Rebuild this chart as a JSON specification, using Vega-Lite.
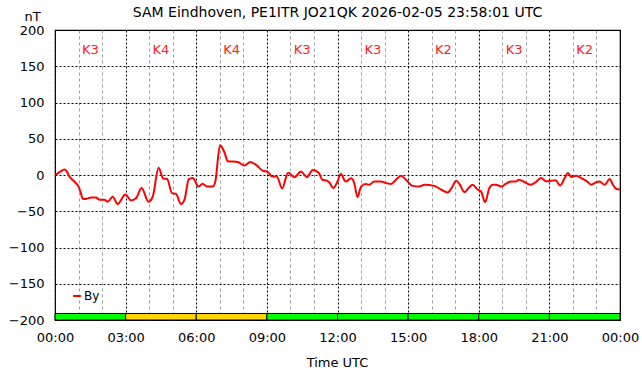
{
  "$schema": "https://vega.github.io/schema/vega-lite/v6.json",
  "width": 565,
  "height": 290,
  "autosize": {"type": "none"},
  "padding": {"left": 55, "top": 30, "right": 22, "bottom": 56},
  "background": "white",
  "config": {
    "font": "DejaVu Sans",
    "view": {"stroke": "black", "strokeWidth": 1.2}
  },
  "title": {"text": "SAM Eindhoven, PE1ITR JO21QK 2026-02-05 23:58:01 UTC", "fontSize": 14, "fontWeight": "normal", "color": "black", "font": "DejaVu Sans", "offset": -10, "anchor": "middle"},
  "datasets": {
    "by": [
      {"h":0,"v":0},{"h":0.2,"v":4},{"h":0.4,"v":7.5},{"h":0.5,"v":5},{"h":0.61,"v":-2},{"h":0.82,"v":-9},{"h":1.0,"v":-16},{"h":1.1,"v":-25},{"h":1.18,"v":-33},{"h":1.32,"v":-33},{"h":1.53,"v":-31},{"h":1.74,"v":-31},{"h":1.88,"v":-34},{"h":2.1,"v":-34},{"h":2.24,"v":-37},{"h":2.45,"v":-30},{"h":2.66,"v":-40},{"h":2.99,"v":-27},{"h":3.23,"v":-35},{"h":3.44,"v":-32},{"h":3.68,"v":-18},{"h":3.97,"v":-37},{"h":4.15,"v":-30},{"h":4.40,"v":10},{"h":4.6,"v":-5},{"h":4.76,"v":-5.5},{"h":4.97,"v":-25},{"h":5.14,"v":-26},{"h":5.35,"v":-40},{"h":5.5,"v":-34},{"h":5.68,"v":-6},{"h":5.85,"v":-4},{"h":6.1,"v":-16},{"h":6.27,"v":-12},{"h":6.45,"v":-16},{"h":6.7,"v":-16},{"h":6.81,"v":-9},{"h":7.01,"v":41},{"h":7.2,"v":31},{"h":7.34,"v":19},{"h":7.76,"v":18},{"h":8.05,"v":13},{"h":8.29,"v":18},{"h":8.54,"v":14},{"h":8.82,"v":6},{"h":9.04,"v":4},{"h":9.22,"v":-2},{"h":9.42,"v":-2},{"h":9.65,"v":-18.5},{"h":9.9,"v":3},{"h":10.17,"v":-3},{"h":10.45,"v":5},{"h":10.7,"v":-3},{"h":10.95,"v":7},{"h":11.2,"v":3},{"h":11.36,"v":-6.5},{"h":11.57,"v":-8},{"h":11.67,"v":-11},{"h":11.82,"v":-18},{"h":12.0,"v":-9},{"h":12.14,"v":1.4},{"h":12.35,"v":-9},{"h":12.57,"v":-4.6},{"h":12.71,"v":-11},{"h":12.85,"v":-30.5},{"h":13.0,"v":-16},{"h":13.2,"v":-12.5},{"h":13.35,"v":-13.4},{"h":13.56,"v":-9},{"h":13.84,"v":-9},{"h":14.06,"v":-11},{"h":14.27,"v":-12.5},{"h":14.48,"v":-6.5},{"h":14.7,"v":-1},{"h":14.91,"v":-6.5},{"h":15.19,"v":-15},{"h":15.48,"v":-16},{"h":15.69,"v":-13.4},{"h":16.11,"v":-15},{"h":16.4,"v":-20},{"h":16.68,"v":-24},{"h":16.87,"v":-16.7},{"h":17.04,"v":-8},{"h":17.2,"v":-13.4},{"h":17.39,"v":-23.6},{"h":17.57,"v":-18},{"h":17.74,"v":-13.4},{"h":17.95,"v":-20},{"h":18.1,"v":-22.7},{"h":18.27,"v":-37.5},{"h":18.45,"v":-18},{"h":18.6,"v":-13.4},{"h":18.74,"v":-13.4},{"h":18.95,"v":-16},{"h":19.16,"v":-12},{"h":19.38,"v":-8.8},{"h":19.59,"v":-8.8},{"h":19.7,"v":-6.5},{"h":19.94,"v":-9.7},{"h":20.18,"v":-13.4},{"h":20.37,"v":-11},{"h":20.65,"v":-4.2},{"h":20.87,"v":-8.8},{"h":21.08,"v":-8},{"h":21.26,"v":-7.4},{"h":21.46,"v":-14.4},{"h":21.65,"v":-4.2},{"h":21.79,"v":2.8},{"h":21.93,"v":-2.8},{"h":22.14,"v":-1},{"h":22.35,"v":-4.2},{"h":22.57,"v":-8},{"h":22.78,"v":-13.4},{"h":22.99,"v":-10},{"h":23.13,"v":-9},{"h":23.35,"v":-13.4},{"h":23.56,"v":-5.6},{"h":23.7,"v":-13.4},{"h":23.84,"v":-19.4},{"h":24.0,"v":-20}
    ],
    "kp": [
      {"start":0,"end":3,"mid":1.5,"k":3,"label":"K3"},
      {"start":3,"end":6,"mid":4.5,"k":4,"label":"K4"},
      {"start":6,"end":9,"mid":7.5,"k":4,"label":"K4"},
      {"start":9,"end":12,"mid":10.5,"k":3,"label":"K3"},
      {"start":12,"end":15,"mid":13.5,"k":3,"label":"K3"},
      {"start":15,"end":18,"mid":16.5,"k":2,"label":"K2"},
      {"start":18,"end":21,"mid":19.5,"k":3,"label":"K3"},
      {"start":21,"end":24,"mid":22.5,"k":2,"label":"K2"}
    ]
  },
  "layer": [
    {
      "data": {"name": "kp"},
      "mark": {"type": "bar", "stroke": "black", "strokeWidth": 1},
      "encoding": {
        "x": {"field": "start", "type": "quantitative", "scale": {"domain": [0, 24], "nice": false},
          "axis": {"values": [0,1,2,3,4,5,6,7,8,9,10,11,12,13,14,15,16,17,18,19,20,21,22,23,24], "grid": true,
            "gridColor": {"condition": {"test": "datum.value % 3 === 0", "value": "black"}, "value": "#a0a0a0"},
            "gridDash": {"condition": {"test": "datum.value % 3 === 0", "value": [2,2]}, "value": [3,3]},
            "gridWidth": 1, "domain": false, "ticks": false, "labelOverlap": false, "labelFlush": false,
            "labelExpr": "datum.value % 3 === 0 ? ((datum.value % 24 < 10 ? '0' : '') + (datum.value % 24) + ':00') : ''",
            "labelFontSize": 13, "labelColor": "black", "labelPadding": 11, "labelFont": "DejaVu Sans",
            "title": "Time UTC", "titleFontSize": 13, "titleFontWeight": "normal", "titleColor": "black", "titleFont": "DejaVu Sans", "titleX": 282, "titleY": 42, "titleBaseline": "middle", "titleAnchor": "middle", "titleAlign": "center"}},
        "x2": {"field": "end"},
        "y": {"datum": -200, "type": "quantitative", "scale": {"domain": [-200, 200], "nice": false},
          "axis": {"values": [-200,-150,-100,-50,0,50,100,150,200], "grid": true, "gridColor": "black", "gridDash": [2,2], "gridWidth": 1, "domain": false, "ticks": false, "labelOverlap": false, "labelFlush": false,
            "labelFontSize": 13, "labelColor": "black", "labelPadding": 11, "labelFont": "DejaVu Sans",
            "title": "nT", "titleAngle": 0, "titleFontSize": 13, "titleFontWeight": "normal", "titleColor": "black", "titleFont": "DejaVu Sans", "titleX": -23, "titleY": -14, "titleAlign": "center", "titleBaseline": "middle"}},
        "y2": {"datum": -191},
        "color": {"condition": {"test": "datum.k >= 4", "value": "#ffd700"}, "value": "#00ff00"}
      }
    },
    {
      "data": {"name": "by"},
      "mark": {"type": "line", "strokeWidth": 2, "interpolate": "monotone"},
      "encoding": {
        "x": {"field": "h", "type": "quantitative", "scale": {"domain": [0, 24], "nice": false},
          "axis": {"values": [0,1,2,3,4,5,6,7,8,9,10,11,12,13,14,15,16,17,18,19,20,21,22,23,24], "grid": true,
            "gridColor": {"condition": {"test": "datum.value % 3 === 0", "value": "black"}, "value": "#a0a0a0"},
            "gridDash": {"condition": {"test": "datum.value % 3 === 0", "value": [2,2]}, "value": [3,3]},
            "gridWidth": 1, "domain": false, "ticks": false, "labelOverlap": false, "labelFlush": false,
            "labelExpr": "datum.value % 3 === 0 ? ((datum.value % 24 < 10 ? '0' : '') + (datum.value % 24) + ':00') : ''",
            "labelFontSize": 13, "labelColor": "black", "labelPadding": 11, "labelFont": "DejaVu Sans",
            "title": "Time UTC", "titleFontSize": 13, "titleFontWeight": "normal", "titleColor": "black", "titleFont": "DejaVu Sans", "titleX": 282, "titleY": 42, "titleBaseline": "middle", "titleAnchor": "middle", "titleAlign": "center"}},
        "y": {"field": "v", "type": "quantitative", "scale": {"domain": [-200, 200], "nice": false},
          "axis": {"values": [-200,-150,-100,-50,0,50,100,150,200], "grid": true, "gridColor": "black", "gridDash": [2,2], "gridWidth": 1, "domain": false, "ticks": false, "labelOverlap": false, "labelFlush": false,
            "labelFontSize": 13, "labelColor": "black", "labelPadding": 11, "labelFont": "DejaVu Sans",
            "title": "nT", "titleAngle": 0, "titleFontSize": 13, "titleFontWeight": "normal", "titleColor": "black", "titleFont": "DejaVu Sans", "titleX": -23, "titleY": -14, "titleAlign": "center", "titleBaseline": "middle"}},
        "color": {"datum": "By", "type": "nominal", "scale": {"range": ["#ff0000"]},
          "legend": {"title": null, "orient": "none", "legendX": 16, "legendY": 260, "symbolType": "stroke", "symbolStrokeWidth": 2, "symbolSize": 60, "labelFontSize": 12, "labelColor": "black", "labelFont": "DejaVu Sans", "labelOffset": 1, "padding": 0}}
      }
    },
    {
      "data": {"name": "kp"},
      "mark": {"type": "text", "color": "#ff2020", "fontSize": 13, "font": "DejaVu Sans", "baseline": "middle", "align": "center"},
      "encoding": {
        "x": {"field": "mid", "type": "quantitative", "scale": {"domain": [0, 24], "nice": false},
          "axis": {"values": [0,1,2,3,4,5,6,7,8,9,10,11,12,13,14,15,16,17,18,19,20,21,22,23,24], "grid": true,
            "gridColor": {"condition": {"test": "datum.value % 3 === 0", "value": "black"}, "value": "#a0a0a0"},
            "gridDash": {"condition": {"test": "datum.value % 3 === 0", "value": [2,2]}, "value": [3,3]},
            "gridWidth": 1, "domain": false, "ticks": false, "labelOverlap": false, "labelFlush": false,
            "labelExpr": "datum.value % 3 === 0 ? ((datum.value % 24 < 10 ? '0' : '') + (datum.value % 24) + ':00') : ''",
            "labelFontSize": 13, "labelColor": "black", "labelPadding": 11, "labelFont": "DejaVu Sans",
            "title": "Time UTC", "titleFontSize": 13, "titleFontWeight": "normal", "titleColor": "black", "titleFont": "DejaVu Sans", "titleX": 282, "titleY": 42, "titleBaseline": "middle", "titleAnchor": "middle", "titleAlign": "center"}},
        "y": {"datum": 172, "type": "quantitative", "scale": {"domain": [-200, 200], "nice": false},
          "axis": {"values": [-200,-150,-100,-50,0,50,100,150,200], "grid": true, "gridColor": "black", "gridDash": [2,2], "gridWidth": 1, "domain": false, "ticks": false, "labelOverlap": false, "labelFlush": false,
            "labelFontSize": 13, "labelColor": "black", "labelPadding": 11, "labelFont": "DejaVu Sans",
            "title": "nT", "titleAngle": 0, "titleFontSize": 13, "titleFontWeight": "normal", "titleColor": "black", "titleFont": "DejaVu Sans", "titleX": -23, "titleY": -14, "titleAlign": "center", "titleBaseline": "middle"}},
        "text": {"field": "label"}
      }
    }
  ]
}
